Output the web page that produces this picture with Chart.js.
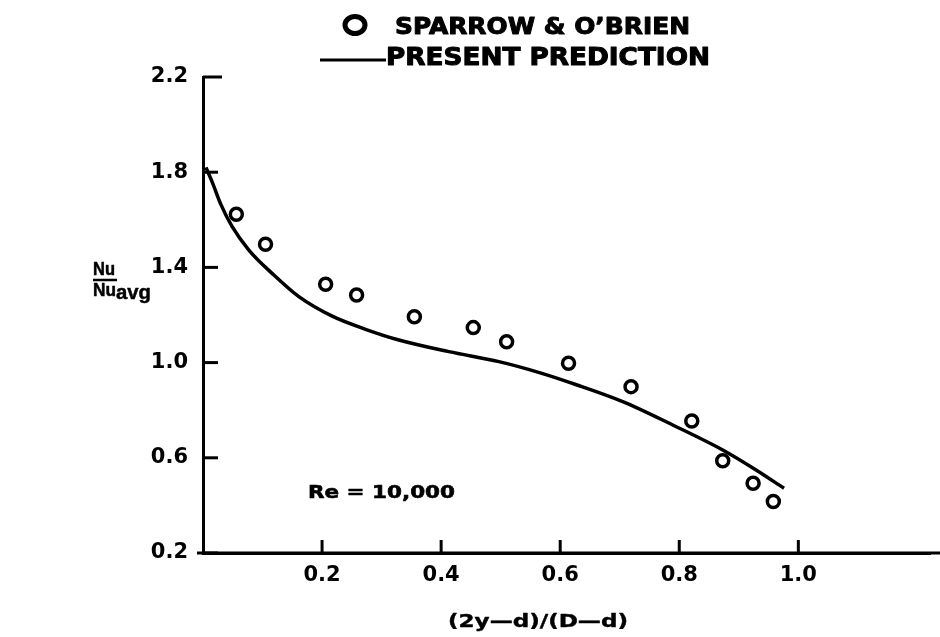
<!DOCTYPE html>
<html><head><meta charset="utf-8">
<script src="https://cdn.jsdelivr.net/npm/chart.js@4.4.1/dist/chart.umd.min.js"></script>
<style>html,body{margin:0;padding:0;background:#fff}#wrap{width:940px;height:637px}</style>
</head><body><div id="wrap"><canvas id="c" width="940" height="637"></canvas></div>
<script>
// ---- data ----
const measuredX = [0.056, 0.105, 0.206, 0.258, 0.355, 0.454, 0.510, 0.614, 0.719, 0.821, 0.873, 0.924, 0.958];
const measuredY = [1.623, 1.497, 1.329, 1.284, 1.193, 1.147, 1.088, 0.997, 0.899, 0.755, 0.588, 0.493, 0.416];
const predX = [0.005, 0.016, 0.030, 0.049, 0.077, 0.116, 0.161, 0.217, 0.273, 0.329, 0.413, 0.497, 0.565, 0.626, 0.705, 0.789, 0.873, 0.929, 0.976];
const predY = [1.820, 1.755, 1.665, 1.571, 1.473, 1.375, 1.277, 1.195, 1.140, 1.095, 1.046, 1.004, 0.958, 0.908, 0.836, 0.738, 0.633, 0.549, 0.472];
const xTicks = [0.2, 0.4, 0.6, 0.8, 1.0];
const yTicks = [0.2, 0.6, 1.0, 1.4, 1.8, 2.2];
const legendLabels = ["SPARROW & O\u2019BRIEN", "PRESENT PREDICTION"];
const xTitle = "(2y\u2014d)/(D\u2014d)";
const annotationText = "Re = 10,000";

const toPts = (xs, ys) => xs.map((x, i) => ({x: x, y: ys[i]}));
const BOLD = "'DejaVu Sans', sans-serif";

function drawFit(ctx, text, font, left, baseline, targetW, heavy) {
  ctx.save();
  ctx.font = font;
  const w = ctx.measureText(text).width;
  ctx.translate(left, baseline);
  ctx.scale(targetW / w, 1);
  ctx.textAlign = 'left';
  ctx.textBaseline = 'alphabetic';
  ctx.fillStyle = '#000';
  ctx.fillText(text, 0, 0);
  if (heavy) {
    ctx.strokeStyle = '#000';
    ctx.lineWidth = heavy;
    ctx.lineJoin = 'round';
    ctx.strokeText(text, 0, 0);
  }
  ctx.restore();
}

const decor = {
  id: 'decor',
  afterDraw(chart) {
    const ctx = chart.ctx;
    const xs = chart.scales.x, ys = chart.scales.y;
    ctx.save();
    ctx.strokeStyle = '#000';
    ctx.lineCap = 'butt';
    // extend x axis line to the right edge
    ctx.lineWidth = 3;
    ctx.beginPath(); ctx.moveTo(xs.left - 6, ys.bottom); ctx.lineTo(chart.width, ys.bottom); ctx.stroke();
    // inward tick marks
    yTicks.forEach(v => {
      const py = ys.getPixelForValue(v);
      const len = v === 2.2 ? 19 : 15;
      ctx.beginPath(); ctx.moveTo(xs.left, py); ctx.lineTo(xs.left + len, py); ctx.stroke();
    });
    xTicks.forEach(v => {
      const px = xs.getPixelForValue(v);
      ctx.beginPath(); ctx.moveTo(px, ys.bottom); ctx.lineTo(px, ys.bottom - 13); ctx.stroke();
    });
    // legend
    ctx.lineWidth = 5;
    ctx.beginPath(); ctx.ellipse(355, 25, 10, 8.5, 0, 0, Math.PI * 2); ctx.stroke();
    drawFit(ctx, legendLabels[0], "bold 23px " + BOLD, 395, 33.5, 295, 1);
    ctx.lineWidth = 3;
    ctx.beginPath(); ctx.moveTo(320, 60); ctx.lineTo(386, 60); ctx.stroke();
    drawFit(ctx, legendLabels[1], "bold 24px " + BOLD, 386, 65, 324, 1);
    // annotation
    drawFit(ctx, annotationText, "bold 18px " + BOLD, 308, 498, 147, 0.6);
    // x title
    drawFit(ctx, xTitle, "bold 17px " + BOLD, 448, 627, 180, 0.4);
    // y title: Nu / Nu avg
    const LS = "'Liberation Sans', Arial, sans-serif";
    drawFit(ctx, "Nu", "bold 18px " + LS, 93, 275, 22, 0.5);
    ctx.lineWidth = 2.5;
    ctx.beginPath(); ctx.moveTo(93, 280); ctx.lineTo(117, 280); ctx.stroke();
    drawFit(ctx, "Nu", "bold 18px " + LS, 93, 296, 23, 0.5);
    drawFit(ctx, "avg", "bold 21px " + LS, 116, 299, 35, 0.5);
    ctx.restore();
  }
};

new Chart(document.getElementById('c'), {
  type: 'scatter',
  data: {
    datasets: [
      {
        label: legendLabels[1],
        data: toPts(predX, predY),
        showLine: true,
        borderColor: '#000',
        borderWidth: 3.5,
        pointRadius: 0,
        tension: 0.4,
        cubicInterpolationMode: 'monotone',
        fill: false,
        order: 2
      },
      {
        label: legendLabels[0],
        data: toPts(measuredX, measuredY),
        showLine: false,
        pointStyle: 'circle',
        pointRadius: 6,
        pointBorderWidth: 3.5,
        pointBorderColor: '#000',
        pointBackgroundColor: '#fff',
        order: 1
      }
    ]
  },
  options: {
    responsive: false,
    animation: false,
    devicePixelRatio: 1,
    layout: {padding: {top: 77, right: 0, left: 0, bottom: 0}},
    plugins: {legend: {display: false}, tooltip: {enabled: false}, title: {display: false}},
    scales: {
      x: {
        type: 'linear',
        min: 0, max: 1.222,
        afterBuildTicks: s => { s.ticks = xTicks.map(v => ({value: v})); },
        afterFit: s => { s.height = 84; },
        ticks: {color: '#000', font: {family: BOLD, size: 21, weight: 'bold'}, padding: 10,
                callback: v => Number(v).toFixed(1), maxRotation: 0, autoSkip: false},
        grid: {display: true, drawOnChartArea: false, drawTicks: false},
        border: {display: true, color: '#000', width: 3}
      },
      y: {
        type: 'linear',
        min: 0.2, max: 2.2,
        afterBuildTicks: s => { s.ticks = yTicks.map(v => ({value: v})); },
        afterFit: s => { s.width = 203; },
        ticks: {color: '#000', font: {family: BOLD, size: 21, weight: 'bold'}, padding: 15,
                callback: v => Number(v).toFixed(1), autoSkip: false},
        grid: {display: true, drawOnChartArea: false, drawTicks: false},
        border: {display: true, color: '#000', width: 3}
      }
    }
  },
  plugins: [decor]
});
</script>
</body></html>
